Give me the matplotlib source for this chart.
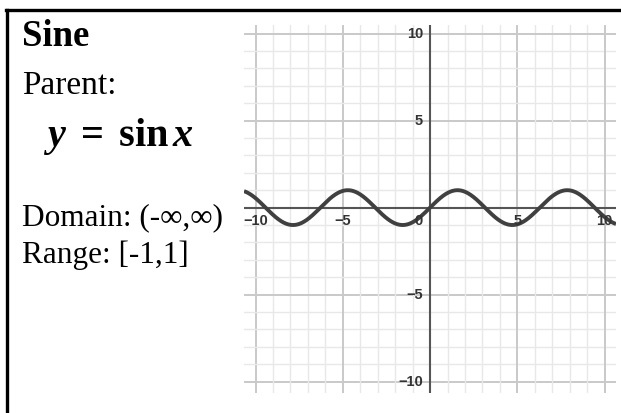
import numpy as np
import matplotlib.pyplot as plt
from matplotlib.lines import Line2D

# graph window and ticks
x_lim = (-10.66, 10.65)
y_lim = (-10.65, 10.49)
major_ticks = [-10, -5, 5, 10]
tick_names = ["\u221210", "\u22125", "5", "10"]
minor_ticks = np.arange(-10, 11, 1)

# text panel
title = "Sine"
parent_label = "Parent:"
equation = r"$\boldsymbol{y}\ \mathbf{=}\ \mathbf{sin}\,\boldsymbol{x}$"
domain_label = "Domain: (-\u221e,\u221e)"
range_label = "Range: [-1,1]"

W, H = 621, 413
plt.rcParams['mathtext.fontset'] = 'custom'
plt.rcParams['mathtext.rm'] = 'Liberation Serif'
plt.rcParams['mathtext.bf'] = 'Liberation Serif:bold'
plt.rcParams['mathtext.it'] = 'Liberation Serif:italic'
plt.rcParams['mathtext.bfit'] = 'Liberation Serif:italic:bold'

fig = plt.figure(figsize=(W / 100, H / 100), dpi=100)

def fx(px):
    return px / W

def fy(py):
    return 1 - py / H

# frame lines (top and left)
fig.add_artist(Line2D([fx(6), 1], [fy(10), fy(10)], color='black', lw=2.4))
fig.add_artist(Line2D([fx(7), fx(7)], [fy(10), 0], color='black', lw=2.4))

serif = 'Liberation Serif'
fig.text(fx(22), fy(46), title, fontsize=26.5, fontweight='bold', family=serif, va='baseline')
fig.text(fx(22), fy(94), parent_label, fontsize=24, family=serif, va='baseline')
fig.text(fx(43), fy(146), equation, fontsize=29, va='baseline')
fig.text(fx(22), fy(225), domain_label, fontsize=22.5, family=serif, va='baseline')
fig.text(fx(22), fy(263), range_label, fontsize=22.5, family=serif, va='baseline')

ax = fig.add_axes([fx(244), fy(393), fx(616) - fx(244), fy(25) - fy(393)])
ax.set_xlim(*x_lim)
ax.set_ylim(*y_lim)
for s in ax.spines.values():
    s.set_visible(False)
ax.set_xticks([])
ax.set_yticks([])

# grid
for v in minor_ticks:
    major = v % 5 == 0
    c = '#c9c9c9' if major else '#e8e8e8'
    lw = 1.4 if major else 1.0
    ax.axvline(v, color=c, lw=lw, zorder=1)
    ax.axhline(v, color=c, lw=lw, zorder=1)

ax.axhline(0, color='#555555', lw=1.5, zorder=2)
ax.axvline(0, color='#555555', lw=1.5, zorder=2)

# y = sin x
xs = np.linspace(x_lim[0], x_lim[1], 800)
ax.plot(xs, np.sin(xs), color='#404040', lw=2.8, zorder=3, solid_capstyle='butt')

lab = dict(fontsize=10.5, fontweight='bold', family='Liberation Sans', color='#333333', zorder=4)
for v, t in zip(major_ticks, tick_names):
    ax.text(v, -0.78, t, ha='center', va='center', **lab)
    ax.text(-0.4, v, t, ha='right', va='center', **lab)
ax.text(-0.4, -0.78, "0", ha='right', va='center', **lab)

fig.savefig("out.png", dpi=100)
